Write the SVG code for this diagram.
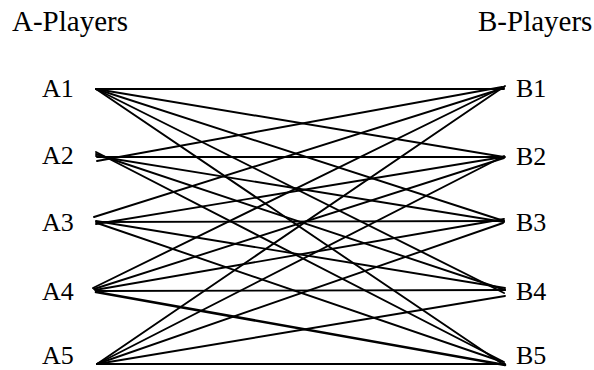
<svg xmlns="http://www.w3.org/2000/svg" width="594" height="370" viewBox="0 0 594 370">
<style>
text{font-family:"Liberation Serif","Times New Roman",serif;fill:#000}
.h{font-size:29px}
.n{font-size:26px}
#edges line{stroke:#000;stroke-width:1.9;stroke-linecap:round}
</style>
<rect width="594" height="370" fill="#fff"/>
<text class="h" x="12" y="31">A-Players</text>
<text class="h" x="478" y="31">B-Players</text>
<g id="edges">
<line x1="96" y1="89" x2="504" y2="89"/>
<line x1="96" y1="89" x2="504" y2="157"/>
<line x1="96" y1="89" x2="504" y2="221"/>
<line x1="96" y1="89" x2="504" y2="293"/>
<line x1="96" y1="89" x2="504" y2="365"/>
<line x1="97" y1="161" x2="502" y2="87"/>
<line x1="97" y1="157" x2="505" y2="157"/>
<line x1="96" y1="156" x2="504" y2="222"/>
<line x1="96" y1="154" x2="505" y2="290"/>
<line x1="96" y1="152" x2="504" y2="362"/>
<line x1="94" y1="217" x2="504" y2="88"/>
<line x1="96" y1="224" x2="503" y2="157"/>
<line x1="96" y1="222" x2="504" y2="221"/>
<line x1="96" y1="221" x2="505" y2="288"/>
<line x1="97" y1="223" x2="503" y2="362"/>
<line x1="93" y1="288" x2="503" y2="87"/>
<line x1="94" y1="289" x2="504" y2="158"/>
<line x1="95" y1="290" x2="504" y2="219"/>
<line x1="96" y1="291" x2="505" y2="290"/>
<line x1="96" y1="292" x2="505" y2="365" style="stroke-width:2.6"/>
<line x1="97" y1="364" x2="505" y2="86"/>
<line x1="97" y1="364" x2="504" y2="156"/>
<line x1="97" y1="364" x2="503" y2="223"/>
<line x1="97" y1="364" x2="505" y2="296"/>
<line x1="97" y1="364" x2="505" y2="364"/>
</g>
<g id="A1"><text class="n" x="42" y="97">A1</text></g>
<g id="A2"><text class="n" x="42" y="164">A2</text></g>
<g id="A3"><text class="n" x="42" y="231">A3</text></g>
<g id="A4"><text class="n" x="42" y="300">A4</text></g>
<g id="A5"><text class="n" x="42" y="364">A5</text></g>
<g id="B1"><text class="n" x="516" y="97">B1</text></g>
<g id="B2"><text class="n" x="516" y="165">B2</text></g>
<g id="B3"><text class="n" x="516" y="231">B3</text></g>
<g id="B4"><text class="n" x="516" y="300">B4</text></g>
<g id="B5"><text class="n" x="516" y="364">B5</text></g>
</svg>
